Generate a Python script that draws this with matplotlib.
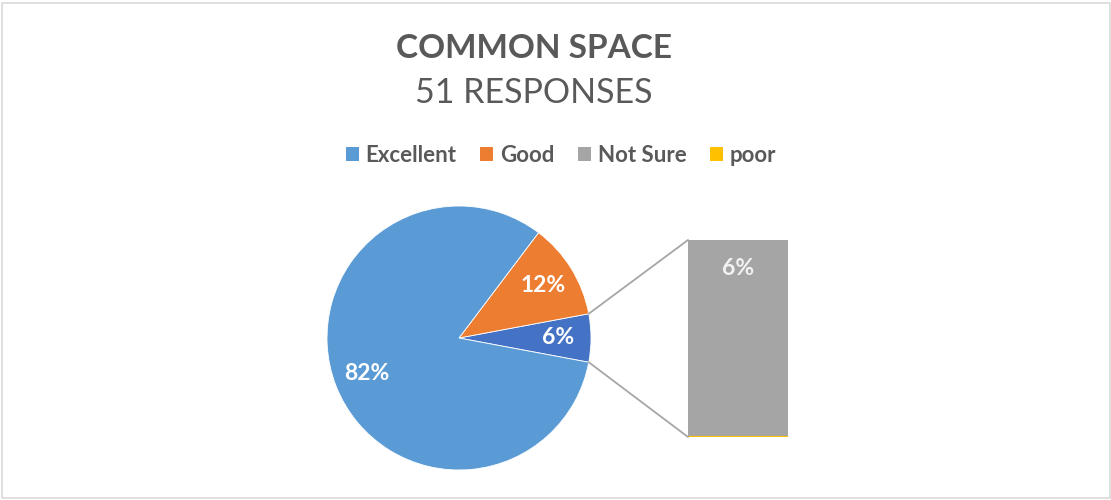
import matplotlib.pyplot as plt
from matplotlib.patches import Patch, Rectangle, ConnectionPatch
import numpy as np

# данные опроса
categories = ['Excellent', 'Good', 'Not Sure', 'poor']
counts = [42, 6, 3, 0]
colors = ['#5B9BD5', '#ED7D31', '#A5A5A5', '#FFC000']
other_color = '#4472C4'
title = 'COMMON SPACE'
subtitle = '51 RESPONSES'

plt.rcParams['font.family'] = ['Lato', 'DejaVu Sans']
text_color = '#595959'

fig = plt.figure(figsize=(11.11, 5.0), dpi=100)
W, H = 1111, 500

# рамка диаграммы
fig.patches.append(Rectangle((1.5 / W, 2.5 / H), 1108 / W, 495 / H, transform=fig.transFigure,
                             fill=False, edgecolor='#D9D9D9', linewidth=1.2))

# заголовок
fig.text(534 / W, 1 - 48 / H, title, ha='center', va='center', fontsize=24,
         fontweight='bold', color=text_color)
fig.text(534 / W, 1 - 93 / H, subtitle, ha='center', va='center', fontsize=24.5,
         color=text_color)

# круговая диаграмма: последние две категории сводятся в "другое"
main_vals = counts[:2]
other_val = sum(counts[2:])
pie_vals = [other_val, main_vals[1], main_vals[0]]
pie_cols = [other_color, colors[1], colors[0]]
other_angle = other_val / sum(counts) * 360
start = -other_angle / 2

cx, cy, r = 459, 338, 132
pie_ax = fig.add_axes([(cx - r) / W, 1 - (cy + r) / H, 2 * r / W, 2 * r / H])
wedges, _, autotexts = pie_ax.pie(pie_vals, colors=pie_cols, startangle=start, counterclock=True,
                                  autopct='%1.0f%%', pctdistance=0.75,
                                  wedgeprops=dict(edgecolor='white', linewidth=0.6),
                                  textprops=dict(color='white', fontsize=16.5, fontweight='bold'))
pie_ax.set_xlim(-1, 1)
pie_ax.set_ylim(-1, 1)

# столбец с разбивкой "другого" (poor снизу)
bx0, bx1, by0, by1 = 688, 788, 240, 437
bar_ax = fig.add_axes([bx0 / W, 1 - by1 / H, (bx1 - bx0) / W, (by1 - by0) / H])
bottom = 0
for val, col in zip(counts[2:][::-1], colors[2:][::-1]):
    if val > 0:
        bar_ax.bar(0, val, width=1, bottom=bottom, color=col, linewidth=0)
    else:
        bar_ax.plot([-0.5, 0.5], [bottom, bottom], color=col, linewidth=1.5,
                    solid_capstyle='butt', zorder=3)
    bottom += val
bar_ax.set_xlim(-0.5, 0.5)
bar_ax.set_ylim(0, other_val)
bar_ax.axis('off')
pct = counts[2] / sum(counts) * 100
bar_ax.annotate(f'{pct:.0f}%', xy=(0, other_val), xytext=(0, -13), textcoords='offset points',
                ha='center', va='top', fontsize=16.5, fontweight='bold', color='#F2F2F2')

# соединительные линии
for sign, yb in [(1, other_val), (-1, 0)]:
    a = np.deg2rad(sign * other_angle / 2)
    con = ConnectionPatch(xyA=(np.cos(a), np.sin(a)), coordsA=pie_ax.transData,
                          xyB=(-0.5, yb), coordsB=bar_ax.transData,
                          color='#A6A6A6', linewidth=1.3)
    fig.add_artist(con)

# легенда
handles = [Patch(facecolor=c, edgecolor='none') for c in colors]
leg = fig.legend(handles, categories, loc='center', bbox_to_anchor=(561 / W, 1 - 155 / H),
                 ncol=4, frameon=False, handlelength=0.6, handleheight=0.6,
                 handletextpad=0.3, columnspacing=1.05,
                 prop=dict(size=16, weight='bold'))
for t in leg.get_texts():
    t.set_color(text_color)

fig.savefig('out.png', dpi=100)
